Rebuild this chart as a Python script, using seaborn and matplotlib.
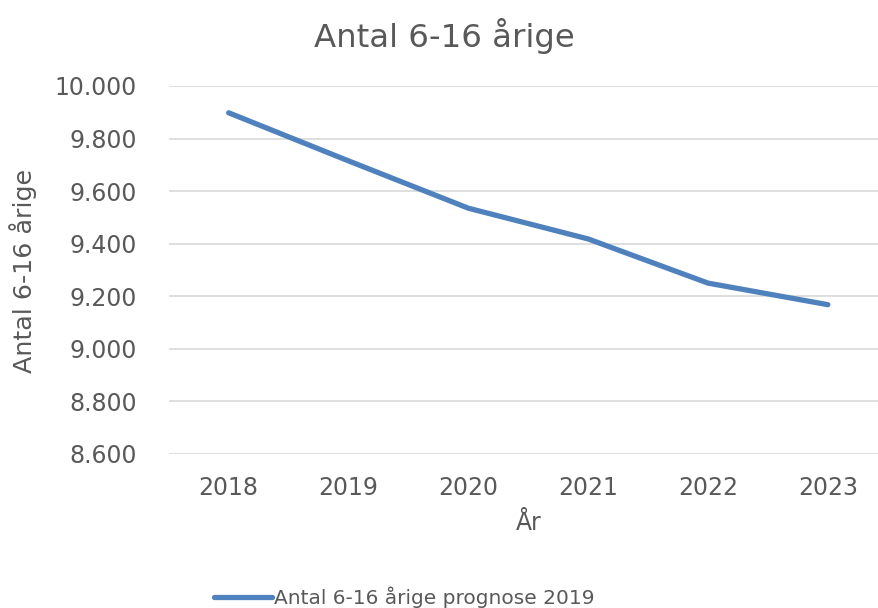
import matplotlib
matplotlib.use("Agg")
import matplotlib.pyplot as plt
import seaborn as sns
import pandas as pd
from matplotlib.ticker import FuncFormatter

# data
years = [2018, 2019, 2020, 2021, 2022, 2023]
antal = [9898, 9715, 9535, 9418, 9250, 9168]
series_name = "Antal 6-16 årige prognose 2019"

df = pd.DataFrame({"År": years, "Antal": antal})

sns.set_style("white")
plt.rcParams["font.family"] = ["DejaVu Sans"]
grey = "#595959"

fig = plt.figure(figsize=(8.79, 6.08), dpi=100)
ax = fig.add_axes([0.192, 0.2533, 0.818, 0.6053])

sns.lineplot(data=df, x="År", y="Antal", ax=ax, color="#4F81BD",
             linewidth=3.8, label=series_name, solid_capstyle="round")

ax.set_xlim(2017.5, 2023.5)
ax.set_ylim(8600, 10000)
ax.set_xticks(years)
ax.set_yticks(range(8600, 10001, 200))
ax.yaxis.set_major_formatter(FuncFormatter(lambda v, p: f"{int(v):,}".replace(",", ".")))
ax.grid(axis="y", color="#d9d9d9", linewidth=1.2)
ax.set_axisbelow(True)
for s in ax.spines.values():
    s.set_visible(False)
ax.tick_params(axis="both", length=0, labelsize=17, colors=grey)
ax.tick_params(axis="x", pad=16)
ax.tick_params(axis="y", pad=23)

ax.set_xlabel("")
ax.set_ylabel("")
fig.text(0.602, 0.139, "År", ha="center", va="center", fontsize=17, color=grey)
fig.text(0.026, 0.554, "Antal 6-16 årige", ha="center", va="center",
         rotation=90, fontsize=18.3, color=grey)
fig.text(0.506, 0.941, "Antal 6-16 årige", ha="center", va="center",
         fontsize=23.3, color=grey)

ax.get_legend().remove()
fig.legend(*ax.get_legend_handles_labels(), loc="center",
           bbox_to_anchor=(0.46, 0.018), frameon=False, fontsize=14.5,
           labelcolor=grey, handlelength=2.9, handletextpad=0.1)

fig.savefig("out.png", dpi=100)
